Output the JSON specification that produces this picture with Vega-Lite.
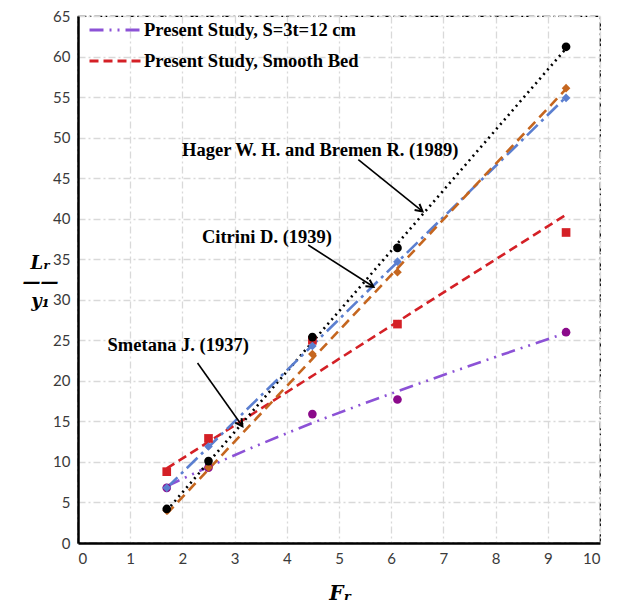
{
  "$schema": "https://vega.github.io/schema/vega-lite/v6.json",
  "width": 522,
  "height": 527,
  "autosize": "none",
  "padding": {"left": 78, "top": 16, "right": 19, "bottom": 61},
  "background": "white",
  "config": {
    "view": {"stroke": "black", "strokeDash": [8, 3, 2, 3], "strokeWidth": 1.2},
    "axis": {
      "domainColor": "black", "domainWidth": 2.5, "ticks": false,
      "labelFont": "Lato", "labelFontSize": 15, "labelColor": "#3a3a3a", "labelPadding": 8,
      "grid": true, "gridColor": "#D9D9D9", "gridDash": [7, 3, 2, 3], "gridWidth": 1.3
    }
  },
  "datasets": {
    "points": [
      {"series": "Present Study, S=3t=12 cm", "Fr": 1.7, "L": 6.8},
      {"series": "Present Study, S=3t=12 cm", "Fr": 2.5, "L": 9.3},
      {"series": "Present Study, S=3t=12 cm", "Fr": 4.49, "L": 15.9},
      {"series": "Present Study, S=3t=12 cm", "Fr": 6.12, "L": 17.7},
      {"series": "Present Study, S=3t=12 cm", "Fr": 9.35, "L": 26.0},
      {"series": "Present Study, Smooth Bed", "Fr": 1.7, "L": 8.8},
      {"series": "Present Study, Smooth Bed", "Fr": 2.5, "L": 12.9},
      {"series": "Present Study, Smooth Bed", "Fr": 4.49, "L": 25.0},
      {"series": "Present Study, Smooth Bed", "Fr": 6.12, "L": 27.0},
      {"series": "Present Study, Smooth Bed", "Fr": 9.35, "L": 38.3},
      {"series": "Smetana J. (1937)", "Fr": 1.7, "L": 4.0},
      {"series": "Smetana J. (1937)", "Fr": 2.5, "L": 9.3},
      {"series": "Smetana J. (1937)", "Fr": 4.49, "L": 23.3},
      {"series": "Smetana J. (1937)", "Fr": 6.12, "L": 33.4},
      {"series": "Smetana J. (1937)", "Fr": 9.35, "L": 56.1},
      {"series": "Citrini D. (1939)", "Fr": 1.7, "L": 6.8},
      {"series": "Citrini D. (1939)", "Fr": 2.5, "L": 11.9},
      {"series": "Citrini D. (1939)", "Fr": 4.49, "L": 24.3},
      {"series": "Citrini D. (1939)", "Fr": 6.12, "L": 34.7},
      {"series": "Citrini D. (1939)", "Fr": 9.35, "L": 54.9},
      {"series": "Hager W. H. and Bremen R. (1989)", "Fr": 1.7, "L": 4.2},
      {"series": "Hager W. H. and Bremen R. (1989)", "Fr": 2.5, "L": 10.1},
      {"series": "Hager W. H. and Bremen R. (1989)", "Fr": 4.49, "L": 25.4},
      {"series": "Hager W. H. and Bremen R. (1989)", "Fr": 6.12, "L": 36.4},
      {"series": "Hager W. H. and Bremen R. (1989)", "Fr": 9.35, "L": 61.2}
    ],
    "lines": [
      {"series": "Present Study, S=3t=12 cm", "Fr": 1.7, "L": 7.0},
      {"series": "Present Study, S=3t=12 cm", "Fr": 2.5, "L": 9.4},
      {"series": "Present Study, S=3t=12 cm", "Fr": 4.49, "L": 14.8},
      {"series": "Present Study, S=3t=12 cm", "Fr": 6.12, "L": 18.7},
      {"series": "Present Study, S=3t=12 cm", "Fr": 9.35, "L": 25.9},
      {"series": "Present Study, Smooth Bed", "Fr": 1.7, "L": 9.2},
      {"series": "Present Study, Smooth Bed", "Fr": 9.35, "L": 40.5},
      {"series": "Hager W. H. and Bremen R. (1989)", "Fr": 1.7, "L": 4.0},
      {"series": "Hager W. H. and Bremen R. (1989)", "Fr": 9.35, "L": 61.0},
      {"series": "Citrini D. (1939)", "Fr": 1.7, "L": 6.8},
      {"series": "Citrini D. (1939)", "Fr": 9.35, "L": 55.0},
      {"series": "Smetana J. (1937)", "Fr": 1.7, "L": 3.6},
      {"series": "Smetana J. (1937)", "Fr": 9.35, "L": 56.0}
    ],
    "notes": [
      {"label": "Hager W. H. and Bremen R. (1989)", "tx": 4.64, "ty": 48.5, "x1": 5.37, "y1": 47.3, "x2": 6.6, "y2": 40.9},
      {"label": "Citrini D. (1939)", "tx": 3.62, "ty": 37.8, "x1": 4.41, "y1": 36.75, "x2": 5.66, "y2": 31.6},
      {"label": "Smetana J. (1937)", "tx": 1.92, "ty": 24.4, "x1": 2.29, "y1": 22.2, "x2": 3.15, "y2": 14.4}
    ]
  },
  "encoding": {
    "x": {"field": "Fr", "type": "quantitative",
      "scale": {"domain": [0, 10], "nice": false},
      "axis": {"values": [0,1,2,3,4,5,6,7,8,9,10], "title": "Fᵣ",
        "titleFont": "DejaVu Serif", "titleFontSize": 20, "titleFontWeight": "bold", "titleFontStyle": "italic",
        "titleX": 262, "titleY": 50, "titleBaseline": "middle", "titleColor": "black"}},
    "y": {"field": "L", "type": "quantitative",
      "scale": {"domain": [0, 65], "nice": false},
      "axis": {"values": [0,5,10,15,20,25,30,35,40,45,50,55,60,65], "title": ["Lᵣ", "——", "y₁"],
        "titleFont": "DejaVu Serif", "titleFontSize": 18, "titleFontWeight": "bold", "titleFontStyle": "italic",
        "titleAngle": 0, "titleAlign": "center", "titleBaseline": "middle", "titleLineHeight": 19,
        "titleX": -38, "titleY": 247, "titleColor": "black"}}
  },
  "layer": [
    {
      "data": {"name": "lines"},
      "mark": {"type": "line", "strokeWidth": 2.6, "interpolate": "monotone"},
      "encoding": {
        "color": {"field": "series", "type": "nominal",
          "scale": {"domain": ["Present Study, S=3t=12 cm", "Present Study, Smooth Bed", "Hager W. H. and Bremen R. (1989)", "Citrini D. (1939)", "Smetana J. (1937)"],
            "range": ["#8C52D6", "#D42026", "#000000", "#5B7FD0", "#C5661F"]},
          "legend": {"values": ["Present Study, S=3t=12 cm", "Present Study, Smooth Bed"], "title": null,
            "orient": "none", "legendX": 10, "legendY": 4, "symbolType": "stroke", "symbolSize": 2600,
            "symbolStrokeWidth": 3, "labelFont": "Liberation Serif", "labelFontSize": 18.5, "labelFontWeight": "bold",
            "labelColor": "black", "rowPadding": 11, "clipHeight": 20, "labelOffset": 2, "labelLimit": 400,
            "encode": {"symbols": {"update": {"strokeDash": {"signal": "datum.value === 'Present Study, Smooth Bed' ? [9, 5] : [14, 6, 2, 6, 2, 6]"}}}}}},
        "strokeDash": {"field": "series", "type": "nominal",
          "scale": {"domain": ["Present Study, S=3t=12 cm", "Present Study, Smooth Bed", "Hager W. H. and Bremen R. (1989)", "Citrini D. (1939)", "Smetana J. (1937)"],
            "range": [[14, 6, 2, 6, 2, 6], [9, 5], [2, 4], [15, 5, 3, 5], [10, 6]]},
          "legend": null}
      }
    },
    {
      "data": {"name": "points"},
      "mark": {"type": "point", "filled": true, "opacity": 1, "size": 75},
      "encoding": {
        "color": {"field": "series", "type": "nominal",
          "scale": {"domain": ["Present Study, S=3t=12 cm", "Present Study, Smooth Bed", "Hager W. H. and Bremen R. (1989)", "Citrini D. (1939)", "Smetana J. (1937)"],
            "range": ["#8B0A8B", "#D42026", "#000000", "#5B7FD0", "#C5661F"]},
          "legend": null},
        "shape": {"field": "series", "type": "nominal",
          "scale": {"domain": ["Present Study, S=3t=12 cm", "Present Study, Smooth Bed", "Hager W. H. and Bremen R. (1989)", "Citrini D. (1939)", "Smetana J. (1937)"],
            "range": ["circle", "square", "circle", "diamond", "diamond"]},
          "legend": null}
      }
    },
    {
      "data": {"name": "notes"},
      "mark": {"type": "rule", "color": "black", "strokeWidth": 1.6},
      "encoding": {
        "x": {"field": "x1", "type": "quantitative"},
        "y": {"field": "y1", "type": "quantitative"},
        "x2": {"field": "x2"},
        "y2": {"field": "y2"}
      }
    },
    {
      "data": {"name": "notes"},
      "transform": [{"filter": "datum.label === 'Hager W. H. and Bremen R. (1989)'"}],
      "mark": {"type": "point", "shape": "M-1,-0.55L0,0L-1,0.55", "filled": false, "stroke": "black", "strokeWidth": 2, "size": 200, "angle": 39, "opacity": 1},
      "encoding": {"x": {"field": "x2", "type": "quantitative"}, "y": {"field": "y2", "type": "quantitative"}}
    },
    {
      "data": {"name": "notes"},
      "transform": [{"filter": "datum.label === 'Citrini D. (1939)'"}],
      "mark": {"type": "point", "shape": "M-1,-0.55L0,0L-1,0.55", "filled": false, "stroke": "black", "strokeWidth": 2, "size": 200, "angle": 33, "opacity": 1},
      "encoding": {"x": {"field": "x2", "type": "quantitative"}, "y": {"field": "y2", "type": "quantitative"}}
    },
    {
      "data": {"name": "notes"},
      "transform": [{"filter": "datum.label === 'Smetana J. (1937)'"}],
      "mark": {"type": "point", "shape": "M-1,-0.55L0,0L-1,0.55", "filled": false, "stroke": "black", "strokeWidth": 2, "size": 200, "angle": 55, "opacity": 1},
      "encoding": {"x": {"field": "x2", "type": "quantitative"}, "y": {"field": "y2", "type": "quantitative"}}
    },
    {
      "data": {"name": "notes"},
      "mark": {"type": "text", "font": "Liberation Serif", "fontSize": 18.5, "fontWeight": "bold", "color": "black", "align": "center", "baseline": "middle"},
      "encoding": {
        "x": {"field": "tx", "type": "quantitative"},
        "y": {"field": "ty", "type": "quantitative"},
        "text": {"field": "label"}
      }
    }
  ],
  "resolve": {"scale": {"color": "independent", "shape": "independent"}}
}
